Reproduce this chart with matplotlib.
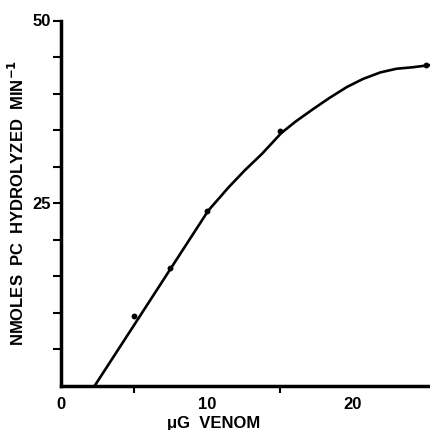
import matplotlib
matplotlib.use("Agg")
import matplotlib.pyplot as plt
from matplotlib.ticker import FixedLocator

# Measured data points
venom_ug = [5.0, 7.5, 10.0, 15.0, 25.0]
rate = [9.6, 16.1, 23.9, 34.9, 43.9]

# Drawn fitted curve
curve_x = [2.3, 5.0, 7.5, 10.1, 11.5, 12.6, 13.8, 15.1, 16.1, 17.3, 18.4, 19.6, 20.7, 21.9, 23.0, 24.1, 25.3]
curve_y = [0.0, 8.3, 16.0, 24.0, 27.2, 29.5, 31.8, 34.6, 36.2, 37.9, 39.4, 40.9, 42.0, 42.9, 43.4, 43.6, 43.9]

x_major = [0, 10, 20]
x_minor = [5, 15]
y_major = [25, 50]
y_minor = [5, 10, 15, 20, 30, 35, 40, 45]

plt.rcParams['font.family'] = ['Liberation Sans', 'DejaVu Sans']

fig = plt.figure(figsize=(4.3, 4.3), dpi=100)
ax = fig.add_axes([61/430, 1 - 386/430, 1 - 61/430, (386 - 20.5)/430])

ax.plot(curve_x, curve_y, color='black', lw=1.9, solid_capstyle='round',
        solid_joinstyle='round', clip_on=False)
ax.plot(venom_ug, rate, 'o', color='black', ms=3.2, clip_on=False)

ax.set_xlim(0, 25.3)
ax.set_ylim(0, 50)

for s in ['top', 'right']:
    ax.spines[s].set_visible(False)
ax.spines['left'].set_linewidth(2.5)
ax.spines['bottom'].set_linewidth(2.5)

ax.xaxis.set_major_locator(FixedLocator(x_major))
ax.xaxis.set_minor_locator(FixedLocator(x_minor))
ax.yaxis.set_major_locator(FixedLocator(y_major))
ax.yaxis.set_minor_locator(FixedLocator(y_minor))

ax.tick_params(axis='both', which='both', direction='out', width=1.5, color='black')
ax.tick_params(axis='y', which='both', length=6, pad=1)
ax.tick_params(axis='x', which='both', length=5, pad=8)
ax.tick_params(axis='x', which='major', length=0)

for lab in ax.get_xticklabels() + ax.get_yticklabels():
    lab.set_fontsize(12)
    lab.set_fontweight('bold')

ax.set_xlabel('\u03bcG  VENOM', fontsize=12, fontweight='bold')
ax.set_ylabel('NMOLES  PC  HYDROLYZED  MIN$^{\\mathbf{-1}}$', fontsize=12,
              fontweight='bold')
ax.xaxis.set_label_coords((214 - 61) / 369, (386 - 416) / 365.5)
ax.yaxis.set_label_coords((27 - 61) / 369, 0.5)

fig.savefig('out.png', dpi=100)
